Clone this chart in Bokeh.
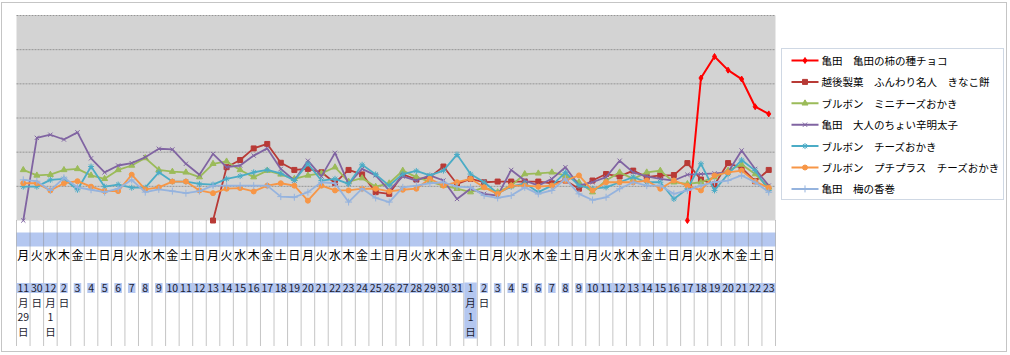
import re
import math
from bokeh.plotting import figure
from bokeh.models import Range1d
from bokeh.core.properties import value
from bokeh.embed import file_html
from bokeh.resources import INLINE

nan = float("nan")

# ---------------- data ----------------
weekdays = ["月", "火", "水", "木", "金", "土", "日"] * 8
date_labels = (["11月29日", "30日", "12月1日", "2日"]
               + [str(d) for d in range(3, 32)]
               + ["1月1日", "2日"]
               + [str(d) for d in range(3, 24)])

series_names = [
    "亀田　亀田の柿の種チョコ",
    "越後製菓　ふんわり名人　きなこ餅",
    "ブルボン　ミニチーズおかき",
    "亀田　大人のちょい辛明太子",
    "ブルボン　チーズおかき",
    "ブルボン　プチプラス　チーズおかき",
    "亀田　梅の香巻",
]

kakinotane_choco = [nan] * 49 + [0, 41.7, 48.0, 44.0, 41.4, 33.3, 31.2]

kinako_mochi = [nan] * 14 + [
    0, 15.6, 17.7, 21.1, 22.4, 16.9, 14.8, 15.1, 14.1, 11.0,
    14.8, 13.5, 8.3, 7.8, 13.5, 12.0, 12.7, 15.8, 10.7, 12.2,
    11.2, 11.4, 11.4, 11.4, 11.4, 10.9, 11.7, 9.3, 11.7, 13.6,
    12.9, 14.6, 12.7, 13.2, 13.3, 16.8, 12.0, 10.5, 16.8, 15.4,
    11.5, 14.8]

mini_cheese = [
    14.8, 13.2, 13.4, 14.8, 15.1, 13.2, 12.2, 14.8, 16.1, 18.3,
    14.8, 14.3, 14.1, 12.7, 16.6, 17.3, 14.8, 12.7, 14.6, 13.5,
    12.2, 13.2, 13.8, 15.6, 11.4, 12.4, 9.9, 10.9, 14.6, 12.7,
    11.4, 10.2, 9.3, 8.3, 9.7, 8.3, 10.2, 13.6, 13.8, 14.1,
    13.2, 11.2, 8.3, 11.7, 14.1, 12.2, 14.1, 14.6, 11.2, 10.7,
    11.2, 12.7, 14.6, 16.4, 13.6, 9.7]

mentaiko = [
    0, 24.2, 25.1, 23.7, 25.8, 18.2, 14.1, 16.1, 16.8, 18.5,
    21.0, 20.8, 16.6, 13.4, 19.5, 15.6, 16.1, 19.0, 21.1, 15.1,
    11.7, 17.5, 12.9, 19.8, 10.7, 15.1, 13.2, 8.8, 12.9, 11.7,
    13.2, 11.7, 6.3, 9.3, 7.8, 7.3, 14.8, 11.7, 10.2, 12.2,
    15.6, 10.2, 11.2, 12.7, 17.5, 14.1, 12.9, 12.2, 11.7, 13.4,
    13.6, 13.8, 14.1, 20.5, 15.1, 10.2]

cheese_okaki = [
    9.9, 9.9, 11.9, 12.2, 9.0, 15.8, 9.9, 10.5, 9.6, 9.6,
    14.1, 11.4, 11.4, 10.7, 10.5, 12.2, 13.0, 14.1, 14.8, 13.8,
    11.7, 16.6, 11.7, 12.2, 10.7, 16.3, 13.5, 10.2, 13.6, 14.5,
    13.2, 14.6, 19.3, 13.6, 11.2, 8.0, 9.9, 10.9, 8.3, 10.2,
    14.1, 10.2, 9.3, 9.7, 11.2, 12.7, 11.2, 11.2, 6.3, 9.3,
    16.6, 8.8, 13.6, 17.7, 14.6, 8.8]

petit_plus = [
    10.9, 10.9, 8.8, 10.9, 11.5, 9.9, 8.6, 8.6, 13.4, 9.1,
    9.7, 11.4, 11.4, 8.8, 8.0, 9.3, 9.5, 8.5, 10.2, 10.9,
    10.2, 5.8, 10.2, 8.8, 8.8, 9.3, 9.3, 8.5, 9.0, 9.3,
    12.2, 10.2, 11.2, 12.2, 9.7, 7.8, 10.2, 10.2, 9.9, 10.2,
    11.7, 13.2, 8.8, 11.2, 11.2, 11.2, 11.7, 9.3, 11.7, 10.2,
    8.8, 13.2, 14.1, 14.6, 11.4, 9.6]

ume_no_kamaki = [
    11.9, 11.5, 8.8, 12.5, 9.7, 9.0, 8.3, 9.3, 11.9, 8.3,
    9.1, 8.6, 8.0, 8.6, 10.2, 10.2, 10.2, 10.2, 10.2, 7.0,
    6.8, 8.3, 11.2, 10.9, 5.4, 9.3, 6.6, 5.4, 9.7, 10.2,
    10.9, 11.2, 9.9, 9.7, 7.3, 6.6, 7.3, 9.7, 7.8, 8.8,
    12.2, 7.8, 6.0, 6.8, 9.3, 11.2, 10.2, 10.2, 7.8, 8.8,
    10.2, 11.2, 11.7, 13.2, 11.2, 8.3]

series_values = [kakinotane_choco, kinako_mochi, mini_cheese, mentaiko,
                 cheese_okaki, petit_plus, ume_no_kamaki]
colors = ["#FF0000", "#B83A36", "#9BBB59", "#8064A2", "#4BACC6", "#F79646", "#95B3DE"]
markers = ["diamond", "square", "triangle", "x", "asterisk", "circle", "cross"]
msizes = [6, 5, 6, 6, 6, 5, 7]
lwidths = [2, 1.8, 1.8, 1.8, 1.8, 1.8, 1.8]

y_max = 60
grid_step = 10
n = len(weekdays)

# ---------------- layout helpers (pixel -> data) ----------------
PL, PR, PT, PB = 16, 775, 15, 220
PXU = (PR - PL) / n
PYU = (PB - PT) / y_max


def dx(px):
    return (px - PL) / PXU


def dy(py):
    return (PB - py) / PYU


W, H = 1010, 355
p = figure(width=W, height=H, x_range=Range1d(dx(0), dx(W)),
           y_range=Range1d(dy(H), dy(0)), output_backend="svg",
           toolbar_location=None, x_axis_location=None, y_axis_location=None,
           min_border=0, outline_line_color=None,
           background_fill_color="white", border_fill_color="white")
p.title.visible = False
p.grid.visible = False

FONT = value("Noto Sans CJK JP")

# plot area
p.quad(left=0, right=n, bottom=0, top=y_max, fill_color="#d3d3d3", line_color=None)
gy = list(range(grid_step, y_max + 1, grid_step))
p.segment(x0=[0] * len(gy), x1=[n] * len(gy), y0=gy, y1=gy,
          line_color="#959595", line_width=1, line_dash="2 1")

# series
xs = [i + 0.5 for i in range(n)]
for name, vals, c, m, s, lw in zip(series_names, series_values, colors, markers, msizes, lwidths):
    p.line(xs, vals, line_color=c, line_width=lw)
    p.scatter(xs, vals, marker=m, size=s, fill_color=c, line_color=c, line_width=1)

# category table
p.quad(left=0, right=n, top=dy(232), bottom=dy(246), fill_color="#b4c7f0", line_color=None)
bx = list(range(n + 1))
p.segment(x0=bx, x1=bx, y0=[dy(PB)] * len(bx), y1=[dy(345)] * len(bx),
          line_color="#8a8a8a", line_width=1, line_dash="1 1")
p.text(x=xs, y=[dy(254)] * n, text=weekdays, text_font=FONT, text_font_size="12px",
       text_align="center", text_baseline="middle", text_color="#000000")

line_py = [287.5, 302, 316.5, 331]
hl_x, hl_y, hl_w, hl_h = [], [], [], []
tx, ty, tt = [], [], []
for i, lab in enumerate(date_labels):
    parts = re.findall(r"\d+|\D", lab)
    first_w = len(parts[0]) * 6.0 + 1.5
    if lab == "1月1日":
        hl_x.append(xs[i]); hl_y.append(dy(310)); hl_w.append(12.5 / PXU); hl_h.append(56 / PYU)
    else:
        hl_x.append(xs[i]); hl_y.append(dy(287.5)); hl_w.append(first_w / PXU); hl_h.append(10 / PYU)
    for k, part in enumerate(parts):
        tx.append(xs[i]); ty.append(dy(line_py[k])); tt.append(part)
p.rect(x=hl_x, y=hl_y, width=hl_w, height=hl_h, fill_color="#b4c7f0", line_color=None)
p.text(x=tx, y=ty, text=tt, text_font=FONT, text_font_size="10.5px",
       text_align="center", text_baseline="middle", text_color="#1c1c30")

# legend
p.quad(left=dx(781), right=dx(1003), top=dy(48), bottom=dy(199), fill_color="white",
       line_color="#9fb0c8", line_width=1, line_dash="1 1")
for k, (name, c, m, s) in enumerate(zip(series_names, colors, markers, msizes)):
    yy = dy(60 + 21.4 * k)
    p.line([dx(791), dx(818)], [yy, yy], line_color=c, line_width=2)
    p.scatter([dx(804.5)], [yy], marker=m, size=s, fill_color=c, line_color=c)
p.text(x=[dx(821)] * 7, y=[dy(60 + 21.4 * k) for k in range(7)], text=series_names,
       text_font=FONT, text_font_size="10.5px", text_align="left",
       text_baseline="middle", text_color="#000000")

# outer chart border
p.quad(left=dx(1), right=dx(1006), top=dy(2), bottom=dy(351), fill_color=None,
       line_color="#8a8a8a", line_width=1, line_dash="1 1")

open("out.html", "w").write(file_html(p, INLINE))
